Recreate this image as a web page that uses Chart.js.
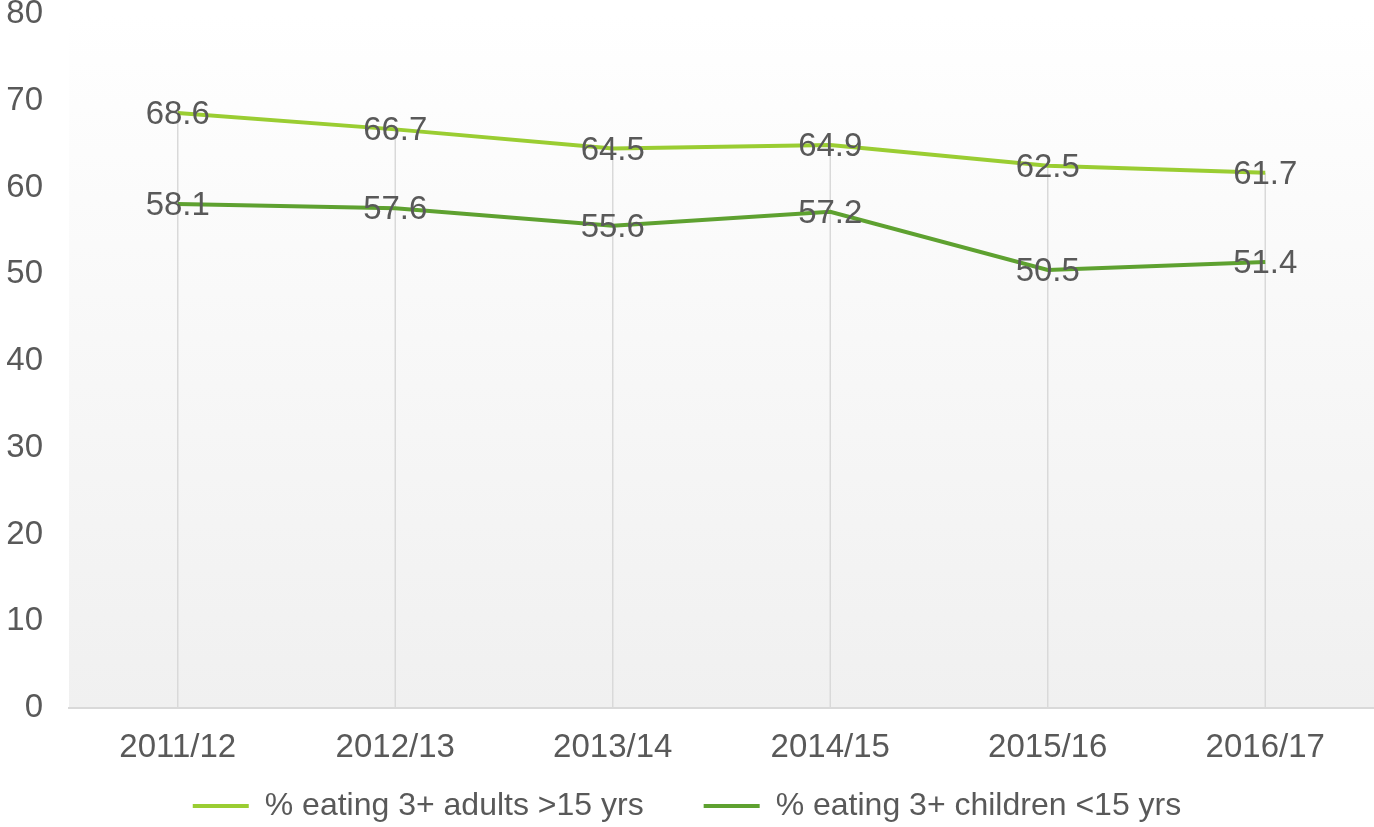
<!DOCTYPE html>
<html>
<head>
<meta charset="utf-8">
<script src="https://cdn.jsdelivr.net/npm/chart.js@4.4.1/dist/chart.umd.min.js"></script>
<style>
  html, body { margin: 0; padding: 0; background: #fff; }
  #wrap { width: 1374px; height: 827px; }
</style>
</head>
<body>
<div id="wrap"><canvas id="fruitVeg"></canvas></div>
<script>
const years = ['2011/12', '2012/13', '2013/14', '2014/15', '2015/16', '2016/17'];
const adults = [68.6, 66.7, 64.5, 64.9, 62.5, 61.7];
const children = [58.1, 57.6, 55.6, 57.2, 50.5, 51.4];
const yTicks = [0, 10, 20, 30, 40, 50, 60, 70, 80];

const textColor = '#595959';
const fontFamily = '"Liberation Sans", Arial, sans-serif';

// gradient behind the plot area
const plotBackground = {
    id: 'plotBackground',
    beforeDraw(chart) {
        const { ctx, chartArea } = chart;
        const g = ctx.createLinearGradient(0, chartArea.top, 0, chartArea.bottom);
        g.addColorStop(0, '#ffffff');
        g.addColorStop(1, '#f0f0f0');
        ctx.save();
        ctx.fillStyle = g;
        ctx.fillRect(chartArea.left, chartArea.top, chartArea.right - chartArea.left, chartArea.bottom - chartArea.top);
        ctx.restore();
    }
};

// drop lines from the highest point of each category down to the axis
const dropLines = {
    id: 'dropLines',
    beforeDatasetsDraw(chart) {
        const { ctx, chartArea } = chart;
        const metas = chart.getSortedVisibleDatasetMetas();
        ctx.save();
        ctx.strokeStyle = '#d9d9d9';
        ctx.lineWidth = 1.5;
        years.forEach((y, i) => {
            const top = Math.min(...metas.map(m => m.data[i].y));
            const x = metas[0].data[i].x;
            ctx.beginPath();
            ctx.moveTo(x, top);
            ctx.lineTo(x, chartArea.bottom);
            ctx.stroke();
        });
        ctx.restore();
    }
};

// value labels centred on each point
const valueLabels = {
    id: 'valueLabels',
    afterDatasetsDraw(chart) {
        const { ctx } = chart;
        ctx.save();
        ctx.fillStyle = textColor;
        ctx.font = '33px ' + fontFamily;
        ctx.textAlign = 'center';
        ctx.textBaseline = 'middle';
        chart.getSortedVisibleDatasetMetas().forEach(meta => {
            const values = chart.data.datasets[meta.index].data;
            meta.data.forEach((pt, i) => {
                ctx.fillText(values[i].toFixed(1), pt.x, pt.y + 2);
            });
        });
        ctx.restore();
    }
};

const ctx = document.getElementById('fruitVeg').getContext('2d');
new Chart(ctx, {
    type: 'line',
    data: {
        labels: years,
        datasets: [{
            label: '% eating 3+ adults >15 yrs',
            data: adults,
            borderColor: '#9acd32',
            backgroundColor: '#9acd32',
            borderWidth: 4,
            pointRadius: 0,
            tension: 0
        }, {
            label: '% eating 3+ children <15 yrs',
            data: children,
            borderColor: '#5ea130',
            backgroundColor: '#5ea130',
            borderWidth: 4,
            pointRadius: 0,
            tension: 0
        }]
    },
    options: {
        responsive: true,
        maintainAspectRatio: false,
        animation: false,
        layout: { padding: 0 },
        scales: {
            x: {
                offset: true,
                grid: { display: false, drawTicks: false },
                border: { color: '#d9d9d9', width: 2 },
                ticks: {
                    color: textColor,
                    padding: 20,
                    font: { family: fontFamily, size: 33 },
                    maxRotation: 0
                },
                afterFit(scale) {
                    scale.paddingLeft = 0;
                    scale.paddingRight = 0;
                    scale.height = 22;
                    // labels hang below the shortened box, so don't clip them
                    scale._computeLabelArea = () => undefined;
                }
            },
            y: {
                min: 0,
                max: 80,
                afterBuildTicks(scale) {
                    scale.ticks = yTicks.map(v => ({ value: v }));
                },
                grid: { display: false, drawTicks: false },
                border: { display: false },
                ticks: {
                    color: textColor,
                    padding: 26,
                    font: { family: fontFamily, size: 33 }
                },
                afterFit(scale) {
                    scale.width = 69;
                    scale.paddingTop = 14;
                    scale.paddingBottom = 0;
                }
            }
        },
        plugins: {
            legend: {
                position: 'bottom',
                maxHeight: 97,
                labels: {
                    color: textColor,
                    font: { family: fontFamily, size: 32 },
                    usePointStyle: true,
                    pointStyle: 'line',
                    pointStyleWidth: 56,
                    padding: 60
                }
            },
            tooltip: { enabled: false }
        }
    },
    plugins: [plotBackground, dropLines, valueLabels]
});
</script>
</body>
</html>
